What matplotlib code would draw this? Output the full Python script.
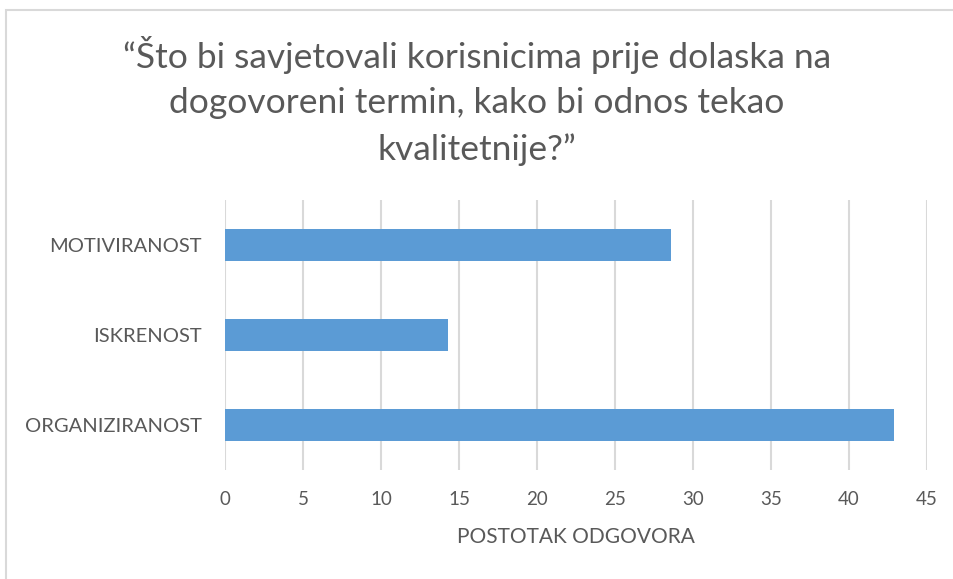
import numpy as np
import matplotlib.pyplot as plt
from matplotlib.patches import Rectangle

# data
categories = ["ORGANIZIRANOST", "ISKRENOST", "MOTIVIRANOST"]
values = [42.86, 14.29, 28.57]
x_ticks = [0, 5, 10, 15, 20, 25, 30, 35, 40, 45]

title = ("\u201cŠto bi savjetovali korisnicima prije dolaska na\n"
         "dogovoreni termin, kako bi odnos tekao\n"
         "kvalitetnije?\u201d")
x_label = "POSTOTAK ODGOVORA"

W, H = 954, 579
text_color = "#595959"
plt.rcParams["font.family"] = ["Lato", "DejaVu Sans"]

fig = plt.figure(figsize=(W / 100, H / 100), dpi=100)
fig.patches.append(Rectangle((6 / W, -0.1), 1.2, 1 - 10 / H + 0.1,
                             transform=fig.transFigure, fill=False,
                             edgecolor="#d9d9d9", linewidth=1.5))

ax = fig.add_axes([225 / W, 1 - 470 / H, (927 - 225) / W, (470 - 200) / H])
y = np.arange(len(categories))
ax.barh(y, values, height=0.35, color="#5b9bd5", zorder=3)

ax.set_xlim(0, 45)
ax.set_ylim(-0.5, 2.5)
ax.set_xticks(x_ticks)
ax.set_yticks(y)
ax.set_yticklabels(categories)
ax.grid(axis="x", color="#d9d9d9", linewidth=1.5, zorder=0)
for s in ax.spines.values():
    s.set_visible(False)
ax.tick_params(length=0, labelsize=14.5, colors=text_color)
ax.tick_params(axis="x", labelsize=13.5, pad=15)
ax.tick_params(axis="y", pad=16.5)
ax.set_xlabel(x_label, fontsize=15, color=text_color, labelpad=14)

fig.text(0.5, 1 - 101 / H, title, ha="center", va="center", fontsize=25.5,
         color=text_color, linespacing=1.5)

fig.savefig("out.png", dpi=100)
